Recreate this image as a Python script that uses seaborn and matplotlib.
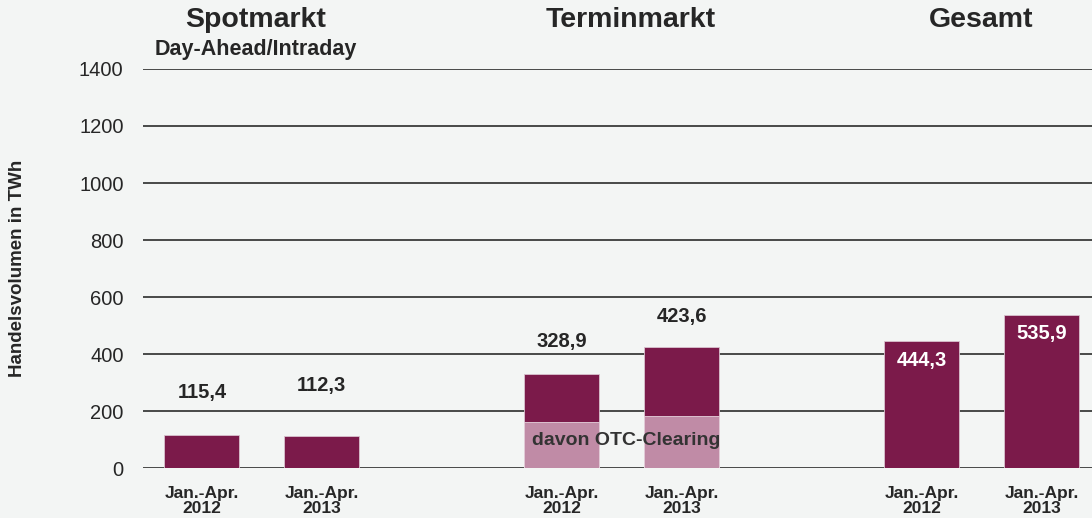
import matplotlib
matplotlib.use("Agg")
import matplotlib.pyplot as plt
import seaborn as sns
import pandas as pd

# ---- data ----
groups = ["Spotmarkt", "Terminmarkt", "Gesamt"]
periods = ["Jan.-Apr.\n2012", "Jan.-Apr.\n2013"]
spot_values = [115.4, 112.3]
termin_values = [328.9, 423.6]
otc_values = [162, 182]
gesamt_values = [444.3, 535.9]
yticks = [0, 200, 400, 600, 800, 1000, 1200, 1400]
value_labels = ["115,4", "112,3", "328,9", "423,6", "444,3", "535,9"]

# ---- style ----
sns.set_theme(style="white")
plt.rcParams["font.family"] = ["Liberation Sans", "DejaVu Sans"]
bg = "#F3F5F4"
dark = "#7B1A4A"
light = "#C08BA6"
txt = "#262626"

positions = [0, 1, 3, 4, 6, 7]
totals = spot_values + termin_values + gesamt_values
df = pd.DataFrame({"pos": positions, "value": totals})
df_otc = pd.DataFrame({"pos": [3, 4], "value": otc_values})

fig = plt.figure(figsize=(10.92, 5.18), dpi=100, facecolor=bg)
ax = fig.add_axes([0.131, 0.0965, 0.869, 0.7703])
ax.set_facecolor(bg)

for y in yticks:
    ax.axhline(y, color="#1a1a1a", lw=1.1, zorder=0)

sns.barplot(data=df, x="pos", y="value", native_scale=True, width=0.625,
            color=dark, saturation=1, edgecolor="#d9c2cf", linewidth=0.6,
            ax=ax, zorder=2)
sns.barplot(data=df_otc, x="pos", y="value", native_scale=True, width=0.625,
            color=light, saturation=1, edgecolor="#e6d3dd", linewidth=0.6,
            ax=ax, zorder=3)

ax.set_xlim(-0.49, 7.42)
ax.set_ylim(0, 1400)
ax.set_yticks(yticks)
ax.set_yticklabels([str(v) for v in yticks], fontsize=14.5, color=txt)
ax.tick_params(axis="y", length=0, pad=14)
ax.set_xticks(positions)
ax.set_xticklabels(periods * 3, fontsize=12.5, fontweight="bold", color=txt,
                   linespacing=1.0)
ax.tick_params(axis="x", length=0, pad=13)
ax.set_xlabel("")
ax.set_ylabel("Handelsvolumen in TWh", fontsize=13.5, fontweight="bold",
              color=txt, labelpad=38)
for s in ax.spines.values():
    s.set_visible(False)

# value labels
offsets = [43, 51, 33, 31, -19, -18]
for p, v, lab, off in zip(positions, totals, value_labels, offsets):
    col = "white" if off < 0 else txt
    ax.annotate(lab, xy=(p, v), xytext=(0, off), textcoords="offset pixels",
                ha="center", va="center", fontsize=14.5, fontweight="bold",
                color=col, zorder=5)

ax.text(3.54, 95, "davon OTC-Clearing", ha="center", va="center",
        fontsize=14, fontweight="bold", color="#333333", zorder=5)

# group titles
title_x = [256, 631, 981]
for gx, g in zip(title_x, groups):
    fig.text(gx / 1092, 1 - 20 / 518, g, ha="center", va="center",
             fontsize=20.5, fontweight="bold", color=txt)
fig.text(256 / 1092, 1 - 50 / 518, "Day-Ahead/Intraday", ha="center",
         va="center", fontsize=15.5, fontweight="bold", color=txt)

fig.savefig("out.png", dpi=100, facecolor=bg)
